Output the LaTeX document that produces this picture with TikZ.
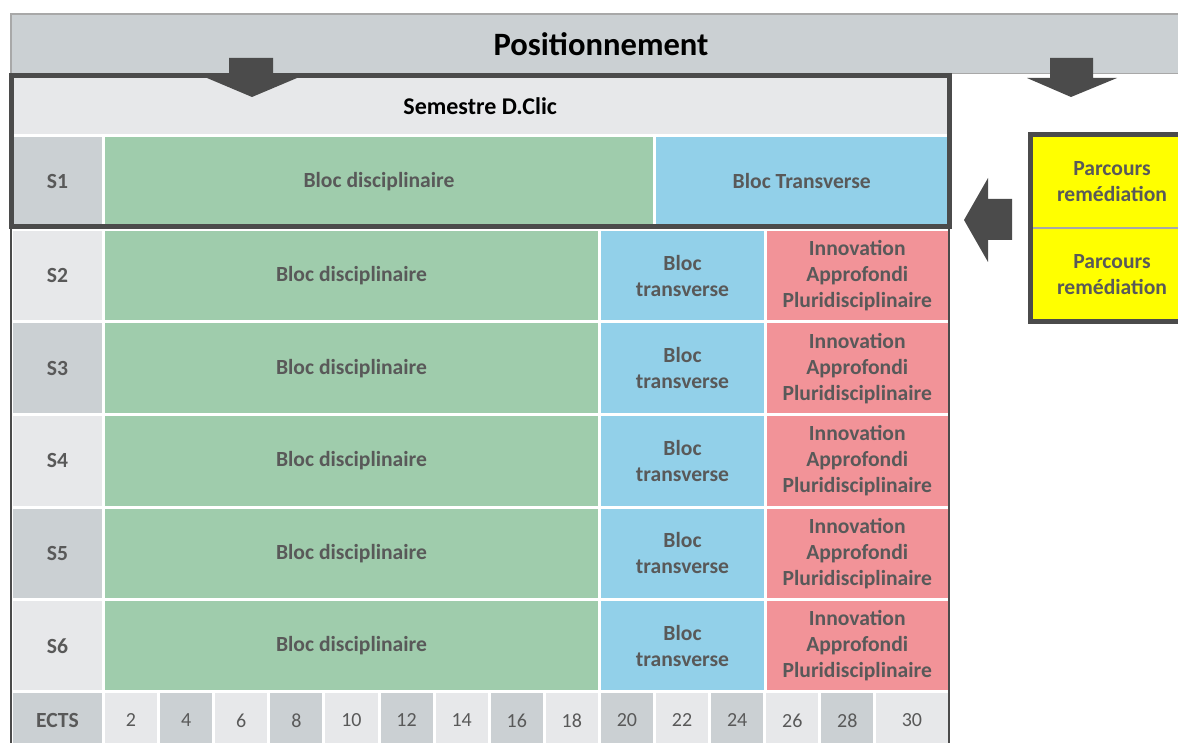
\documentclass[tikz,border=0pt]{standalone}
\usepackage{fontspec}
\setmainfont{Carlito}
\definecolor{barGray}{HTML}{CBD0D3}
\definecolor{lightGray}{HTML}{E7E8EA}
\definecolor{lineGray}{HTML}{A8A8A8}
\definecolor{discGreen}{HTML}{9FCCAC}
\definecolor{transBlue}{HTML}{92D0E9}
\definecolor{innoPink}{HTML}{F29398}
\definecolor{frameGray}{HTML}{4B4B4B}
\definecolor{textGray}{HTML}{595959}
\definecolor{remYellow}{HTML}{FFFF00}
\newcommand{\blocfont}{\fontsize{21.6}{26}\selectfont\bfseries}
\newcommand{\numfont}{\fontsize{20}{24}\selectfont}
\tikzset{
  cell/.style={draw=white,line width=3pt,inner sep=0pt,align=center,text=textGray,font=\blocfont},
  yellowcell/.style={draw=lineGray,line width=1.5pt,fill=remYellow,inner sep=0pt,align=center,text=textGray,font=\blocfont,minimum width=163pt,minimum height=93.5pt}
}
\begin{document}
\begin{tikzpicture}[x=1pt,y=-1pt]
\useasboundingbox (0,0) rectangle (1178,743);
\clip (0,0) rectangle (1178,743);

\node[draw=lineGray,line width=1.5pt,fill=barGray,inner sep=0pt,minimum width=1180pt,minimum height=59.5pt,font=\fontsize{32.6}{36}\selectfont\bfseries] (pos) at (601,43.75) {Positionnement};

\node[cell,fill=lightGray,text=black,font=\fontsize{24}{28}\selectfont\bfseries,minimum width=937.5pt,minimum height=60.5pt] (sem) at (480.25,105.75) {Semestre D.Clic};

\node[cell,fill=barGray,minimum width=92pt,minimum height=91pt] (lab1) at (57.5,181.5) {S1};
\node[cell,fill=discGreen,minimum width=551pt,minimum height=91pt] (disc1) at (379,181.5) {Bloc disciplinaire};
\node[cell,fill=transBlue,minimum width=294.5pt,minimum height=91pt] (trans1) at (801.75,181.5) {Bloc Transverse};

\foreach \i/\c in {2/lightGray,3/barGray,4/lightGray,5/barGray,6/lightGray}{
  \pgfmathsetmacro{\y}{275.75+92.5*(\i-2)}
  \node[cell,fill=\c,minimum width=92pt,minimum height=92.5pt] (lab\i) at (57.5,\y) {S\i};
  \node[cell,fill=discGreen,minimum width=496pt,minimum height=92.5pt] (disc\i) at (351.5,\y) {Bloc disciplinaire};
  \node[cell,fill=transBlue,minimum width=166pt,minimum height=92.5pt] (trans\i) at (682.5,\y) {Bloc\\transverse};
  \node[cell,fill=innoPink,minimum width=183.5pt,minimum height=92.5pt] (inno\i) at (857.25,\y) {Innovation\\Approfondi\\Pluridisciplinaire};
}

\node[cell,fill=barGray,minimum width=92pt,minimum height=59pt] (ects) at (57.5,720.5) {ECTS};
\foreach \k in {0,...,14}{
  \pgfmathsetmacro{\xl}{103.5+55.1*\k}
  \pgfmathsetmacro{\xr}{\k<14 ? 103.5+55.1*(\k+1) : 949}
  \pgfmathsetmacro{\w}{\xr-\xl}
  \pgfmathsetmacro{\xm}{(\xl+\xr)/2}
  \pgfmathtruncatemacro{\p}{100*mod(\k,2)}
  \pgfmathtruncatemacro{\v}{2*\k+2}
  \node[cell,fill=barGray!\p!lightGray,font=\numfont,minimum width=\w pt,minimum height=59pt] (ects\v) at (\xm,720.5) {\v};
}

\draw[frameGray,line width=2.5pt] (11,227) -- (11,750);
\draw[frameGray,line width=2pt] (949,227) -- (949,750);
\draw[frameGray,line width=5pt] (11.5,75.5) rectangle (949,227);

\node[yellowcell] (rem1) at (1112,181.25) {Parcours\\remédiation};
\node[yellowcell] (rem2) at (1112,274.75) {Parcours\\remédiation};
\draw[frameGray,line width=5pt] (1030.5,134.5) rectangle (1200,321.5);

\fill[frameGray] (229,58) -- (273,58) -- (273,78) -- (297,78) -- (252,97) -- (207,78) -- (229,78) -- cycle;
\fill[frameGray] (1050,58) -- (1093,58) -- (1093,78) -- (1117,78) -- (1071,97) -- (1027,78) -- (1050,78) -- cycle;
\fill[frameGray] (1012,199) -- (988,199) -- (988,178) -- (964,220) -- (988,262) -- (988,240) -- (1012,240) -- cycle;
\end{tikzpicture}
\end{document}
